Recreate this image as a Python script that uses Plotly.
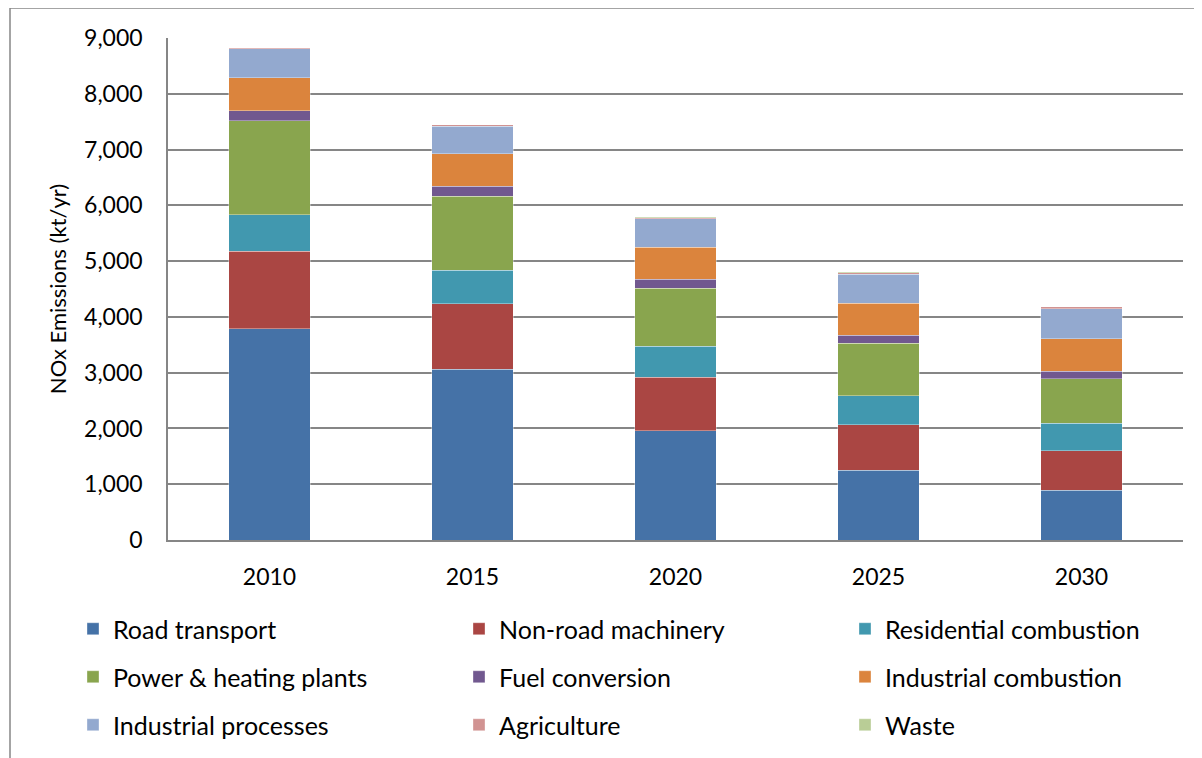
import plotly.graph_objects as go

years = ['2010', '2015', '2020', '2025', '2030']

road_transport = [3790, 3065, 1956, 1247, 889]
non_road_machinery = [1386, 1170, 966, 816, 709]
residential_combustion = [651, 601, 555, 526, 495]
power_heating_plants = [1688, 1331, 1037, 941, 800]
fuel_conversion = [184, 179, 161, 143, 130]
industrial_combustion = [591, 578, 573, 573, 585]
industrial_processes = [513, 496, 513, 519, 542]
agriculture = [18, 23, 18, 30, 31]
waste = [5, 5, 5, 5, 5]

y_ticks = [0, 1000, 2000, 3000, 4000, 5000, 6000, 7000, 8000, 9000]

# name, values, colour, legend row
series = [
    ('Road transport', road_transport, '#4572A7', 'legend'),
    ('Non-road machinery', non_road_machinery, '#AA4643', 'legend'),
    ('Residential combustion', residential_combustion, '#4198AF', 'legend'),
    ('Power & heating plants', power_heating_plants, '#89A54E', 'legend2'),
    ('Fuel conversion', fuel_conversion, '#71588F', 'legend2'),
    ('Industrial combustion', industrial_combustion, '#DB843D', 'legend2'),
    ('Industrial processes', industrial_processes, '#93A9CF', 'legend3'),
    ('Agriculture', agriculture, '#D19392', 'legend3'),
    ('Waste', waste, '#B9CD96', 'legend3'),
]

FONT = 'Lato, Open Sans, sans-serif'

fig = go.Figure()
for i, (name, values, colour, leg) in enumerate(series):
    # last column narrower so the legend box does not get pushed left by the figure edge
    fig.add_trace(go.Bar(
        x=years, y=values, name=name, legend=leg,
        legendwidth=260 if i % 3 == 2 else 341,
        marker=dict(color=colour, line=dict(color='rgba(255,255,255,0.35)', width=1)),
    ))

# the page has an 8px body margin, so figure coords = page coords - 8
OFF = 8
W, H = 1202 - OFF, 758 - OFF
L, R, T, B = 168 - OFF, 19, 38 - OFF, 217
pw, ph = W - L - R, H - T - B


def paper_x(px):
    return (px - OFF - L) / pw


def paper_y(py):
    return (H - B - (py - OFF)) / ph


legend_style = dict(
    orientation='h', entrywidth=341, entrywidthmode='pixels',
    x=paper_x(73), xanchor='left', yanchor='middle',
    font=dict(family=FONT, size=25, color='#000000'),
    bgcolor='rgba(0,0,0,0)', traceorder='normal', itemwidth=30,
)

fig.update_layout(
    width=W, height=H,
    margin=dict(l=L, r=R, t=T, b=B),
    barmode='stack', bargap=0.6,
    plot_bgcolor='white', paper_bgcolor='white',
    font=dict(family=FONT, size=23, color='#000000'),
    showlegend=True,
    legend=dict(legend_style, y=paper_y(629)),
    legend2=dict(legend_style, y=paper_y(677)),
    legend3=dict(legend_style, y=paper_y(725)),
    xaxis=dict(
        showgrid=False, showline=True, linecolor='#868686', linewidth=1.5,
        ticks='', ticklabelstandoff=16,
        tickfont=dict(family=FONT, size=23, color='#000000'),
    ),
    yaxis=dict(
        range=[0, 9000], tickvals=y_ticks, tickformat=',d',
        showgrid=True, gridcolor='#868686', gridwidth=1.5,
        showline=True, linecolor='#868686', linewidth=1.5,
        zeroline=False, ticks='', ticklabelstandoff=19,
        tickfont=dict(family=FONT, size=23, color='#000000'),
        title=dict(text='NOx Emissions (kt/yr)', standoff=11,
                   font=dict(family=FONT, size=22, color='#000000')),
    ),
    shapes=[dict(
        type='rect', xref='paper', yref='paper',
        x0=paper_x(10), x1=paper_x(1240),
        y0=paper_y(800), y1=paper_y(8),
        line=dict(color='#868686', width=1.5), fillcolor='rgba(0,0,0,0)', layer='below',
    )],
)

fig.write_html('out.html')
